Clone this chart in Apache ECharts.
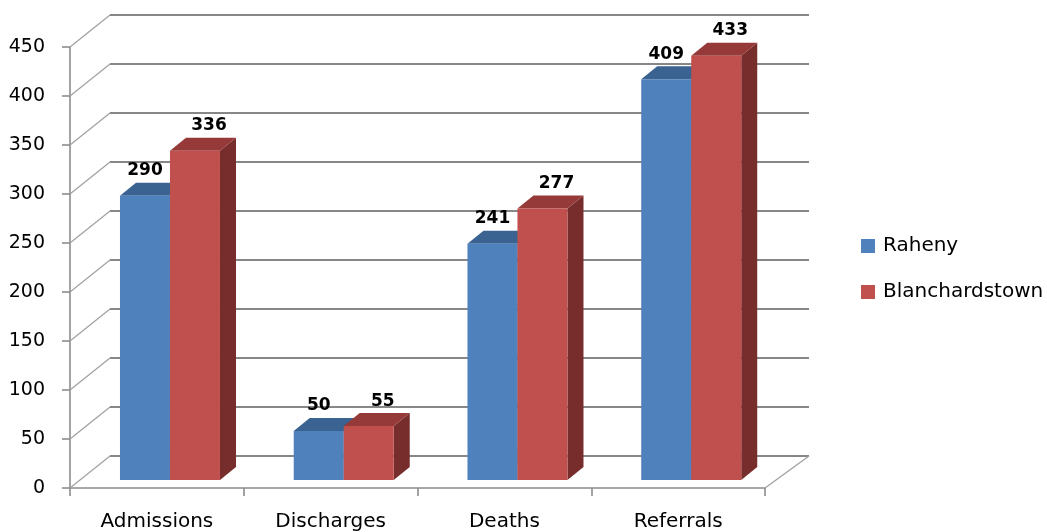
<!DOCTYPE html>
<html>
<head>
<meta charset="utf-8">
<style>html,body{margin:0;padding:0;background:#fff;}#c{width:1047px;height:532px;}</style>
<script src="https://cdn.jsdelivr.net/npm/echarts@6/dist/echarts.min.js"></script>
</head>
<body>
<div id="c"></div>
<script>
const categories = ['Admissions', 'Discharges', 'Deaths', 'Referrals'];
const raheny = [290, 50, 241, 409];
const blanchardstown = [336, 55, 277, 433];
const yTicks = [0, 50, 100, 150, 200, 250, 300, 350, 400, 450];

const FONT = 'DejaVu Sans';
const WALL_DX = 40, WALL_DX_R = 44, WALL_DY = 32;
const BAR_PLANE_DY = 8, BAR_DX = 16, BAR_DY = 13;
const palettes = [
  { front: '#4F81BD', top: '#3A6391', side: '#2F5177', labelShift: 0 },
  { front: '#C0504D', top: '#953A38', side: '#772D2B', labelShift: 14 }
];

function wallItem(params, api) {
  const v = api.value(1);
  const y = api.coord([0, v])[1];
  const cs = params.coordSys;
  const L = cs.x, R = cs.x + cs.width;
  const children = [
    { type: 'line', shape: { x1: L, y1: y, x2: L + WALL_DX, y2: y - WALL_DY },
      style: { stroke: '#a0a0a0', lineWidth: 1.2 } },
    { type: 'line', shape: { x1: L + WALL_DX, y1: y - WALL_DY, x2: R + WALL_DX_R, y2: y - WALL_DY },
      style: { stroke: '#878787', lineWidth: 1.8 } }
  ];
  if (v === 0) {
    children.push({ type: 'line', shape: { x1: R, y1: y, x2: R + WALL_DX_R, y2: y - WALL_DY },
      style: { stroke: '#a0a0a0', lineWidth: 1.2 } });
  }
  return { type: 'group', children };
}

function barRenderer(si) {
  const p = palettes[si];
  return function (params, api) {
    const cat = api.value(0), v = api.value(1);
    const top = api.coord([cat, v]);
    const base = api.coord([cat, 0]);
    const band = api.size([1, 0])[0];
    const w = band * 0.2878;
    const x0 = top[0] + band * (si === 0 ? -0.2124 : 0.0754);
    const x1 = x0 + w;
    const yt = top[1] - BAR_PLANE_DY;
    const yb = base[1] - BAR_PLANE_DY;
    return {
      type: 'group',
      children: [
        { type: 'polygon', shape: { points: [[x1, yt], [x1 + BAR_DX, yt - BAR_DY], [x1 + BAR_DX, yb - BAR_DY], [x1, yb]] },
          style: { fill: p.side } },
        { type: 'polygon', shape: { points: [[x0, yt], [x1, yt], [x1 + BAR_DX, yt - BAR_DY], [x0 + BAR_DX, yt - BAR_DY]] },
          style: { fill: p.top } },
        { type: 'rect', shape: { x: x0, y: yt, width: w, height: yb - yt },
          style: { fill: p.front } },
        { type: 'text', x: (x0 + x1) / 2 + p.labelShift, y: yt - 25,
          style: { text: String(v), fill: '#000', font: 'bold 17px "' + FONT + '"', align: 'center', verticalAlign: 'middle' } }
      ]
    };
  };
}

const chart = echarts.init(document.getElementById('c'), null, { renderer: 'canvas' });
chart.setOption({
  animation: false,
  backgroundColor: '#fff',
  grid: { left: 70, right: 282, top: 47, bottom: 44, containLabel: false },
  legend: {
    orient: 'vertical', left: 856, top: 231,
    itemWidth: 14, itemHeight: 14, itemGap: 26, icon: 'rect',
    data: ['Raheny', 'Blanchardstown'],
    textStyle: { fontFamily: FONT, fontSize: 20, color: '#000', lineHeight: 20, padding: [0, 0, 0, 3] }
  },
  xAxis: {
    type: 'category', data: categories, boundaryGap: true,
    axisLine: { lineStyle: { color: '#8c8c8c', width: 1.6 } },
    axisTick: { show: true, length: 8, lineStyle: { color: '#8c8c8c', width: 1.6 } },
    axisLabel: { fontFamily: FONT, fontSize: 20, color: '#000', margin: 24 },
    splitLine: { show: false }
  },
  yAxis: {
    type: 'value', min: 0, max: 450, interval: 50,
    axisLine: { show: true, lineStyle: { color: '#8c8c8c', width: 1.6 } },
    axisTick: { show: true, length: 8, lineStyle: { color: '#8c8c8c', width: 1.6 } },
    axisLabel: { fontFamily: FONT, fontSize: 19, color: '#000', margin: 25 },
    splitLine: { show: false }
  },
  series: [
    { type: 'custom', name: 'wall', z: 1, silent: true, renderItem: wallItem,
      data: yTicks.map(v => [0, v]), encode: { x: 0, y: 1 } },
    { type: 'custom', name: 'Raheny', z: 2, itemStyle: { color: palettes[0].front },
      renderItem: barRenderer(0), data: raheny.map((v, i) => [i, v]), encode: { x: 0, y: 1 } },
    { type: 'custom', name: 'Blanchardstown', z: 3, itemStyle: { color: palettes[1].front },
      renderItem: barRenderer(1), data: blanchardstown.map((v, i) => [i, v]), encode: { x: 0, y: 1 } }
  ]
});
</script>
</body>
</html>
